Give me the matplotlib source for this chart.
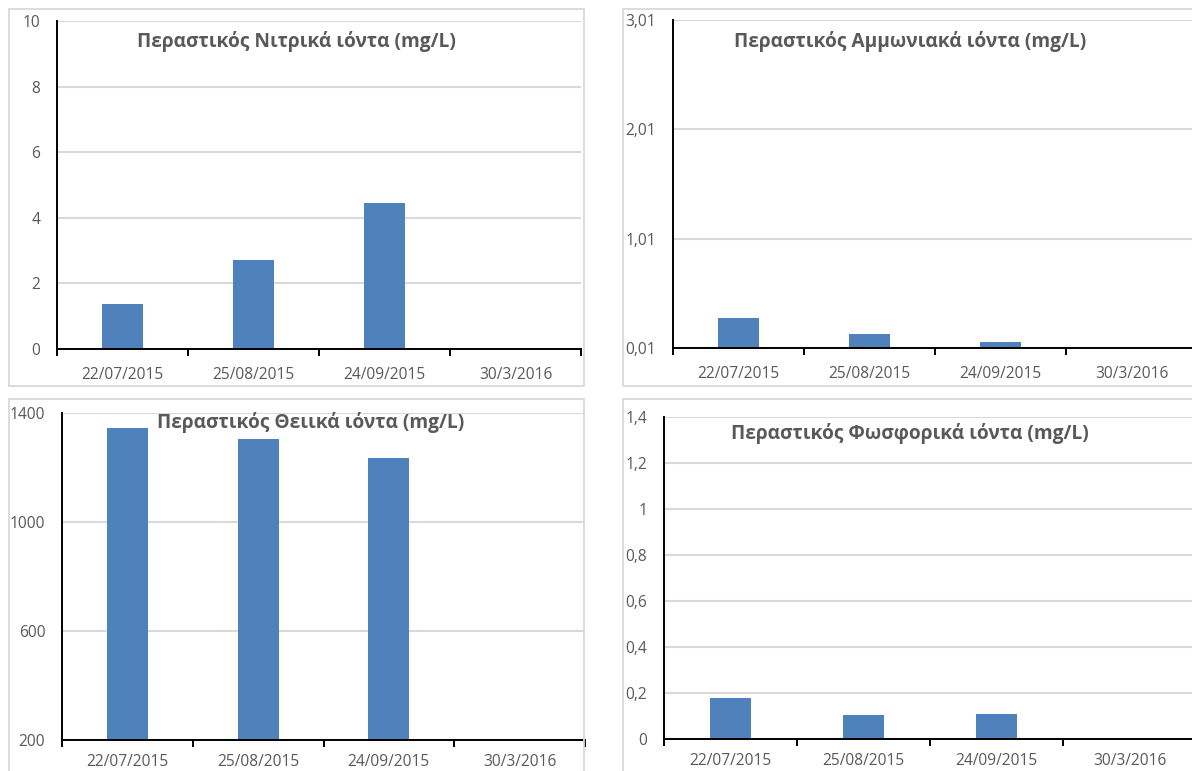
import numpy as np
import matplotlib
matplotlib.use('Agg')
import matplotlib.pyplot as plt
from matplotlib.patches import Rectangle

plt.rcParams['font.family'] = ['Open Sans', 'DejaVu Sans']

# data
dates = ['22/07/2015', '25/08/2015', '24/09/2015', '30/3/2016']
nitrate = [1.37, 2.71, 4.45, np.nan]
ammonium = [0.284, 0.138, 0.065, np.nan]
sulfate = [1345, 1304, 1234, np.nan]
phosphate = [0.178, 0.104, 0.109, np.nan]

titles = ['Περαστικός Νιτρικά ιόντα (mg/L)',
          'Περαστικός Αμμωνιακά ιόντα (mg/L)',
          'Περαστικός Θειικά ιόντα (mg/L)',
          'Περαστικός Φωσφορικά ιόντα (mg/L)']

nitrate_ticks = [0, 2, 4, 6, 8, 10]
nitrate_labels = ['0', '2', '4', '6', '8', '10']
ammonium_ticks = [0.01, 1.01, 2.01, 3.01]
ammonium_labels = ['0,01', '1,01', '2,01', '3,01']
sulfate_ticks = [200, 600, 1000, 1400]
sulfate_labels = ['200', '600', '1000', '1400']
phosphate_ticks = [0, 0.2, 0.4, 0.6, 0.8, 1.0, 1.2, 1.4]
phosphate_labels = ['0', '0,2', '0,4', '0,6', '0,8', '1', '1,2', '1,4']

W, H = 1192, 771
BAR = '#4f81bd'
GREY = '#595959'
LIGHT = '#d9d9d9'

fig = plt.figure(figsize=(W / 100, H / 100), dpi=100)


def px_rect(l, t, r, b):
    return [l / W, 1 - b / H, (r - l) / W, (b - t) / H]


def draw_panel(box, axrect, cat_w, values, ticks, labels, title, title_xy, xpad=13):
    # outer chart frame
    bl, bt, br, bb = box
    fig.patches.append(Rectangle((bl / W, 1 - bb / H), (br - bl) / W, (bb - bt) / H,
                                 transform=fig.transFigure, fill=False,
                                 edgecolor=LIGHT, lw=1.3, zorder=0))
    l, t, r, b = axrect
    ax = fig.add_axes(px_rect(l, t, r, b))
    x = np.arange(len(dates))
    ax.bar(x, values, width=0.313, color=BAR, zorder=3)
    ax.set_xlim(-0.5, -0.5 + (r - l) / cat_w)
    ax.set_ylim(ticks[0], ticks[-1])
    ax.set_yticks(ticks)
    ax.set_yticklabels(labels)
    ax.set_xticks(x)
    ax.set_xticklabels(dates)
    ax.set_xticks(np.arange(len(dates) + 1) - 0.5, minor=True)
    ax.tick_params(axis='x', which='major', length=0, pad=xpad, labelsize=11.2, colors=GREY)
    ax.tick_params(axis='x', which='minor', length=5, width=1.4, color='black')
    ax.tick_params(axis='y', length=0, pad=12, labelsize=11.2, colors=GREY)
    ax.grid(axis='y', color=LIGHT, lw=1.5, zorder=0)
    ax.set_axisbelow(True)
    for s in ['top', 'right']:
        ax.spines[s].set_visible(False)
    for s in ['left', 'bottom']:
        ax.spines[s].set_color('black')
        ax.spines[s].set_linewidth(1.4)
        ax.spines[s].set_zorder(4)
    ax.patch.set_alpha(0)
    fig.text(title_xy[0] / W, 1 - title_xy[1] / H, title, ha='center', va='center',
             fontsize=13.8, fontweight='bold', color=GREY)
    return ax


draw_panel((9, 9, 584, 386), (57, 21, 581, 349), 131, nitrate,
           nitrate_ticks, nitrate_labels, titles[0], (296, 42))
draw_panel((623, 9, 1200, 386), (673, 20, 1197, 348), 131, ammonium,
           ammonium_ticks, ammonium_labels, titles[1], (910, 41))
draw_panel((9, 399, 584, 780), (62, 413, 585, 740), 130.75, sulfate,
           sulfate_ticks, sulfate_labels, titles[2], (311, 422), xpad=10)
draw_panel((623, 399, 1200, 780), (664, 417, 1196, 739), 133, phosphate,
           phosphate_ticks, phosphate_labels, titles[3], (910, 434), xpad=10)

fig.savefig('out.png', dpi=100)
